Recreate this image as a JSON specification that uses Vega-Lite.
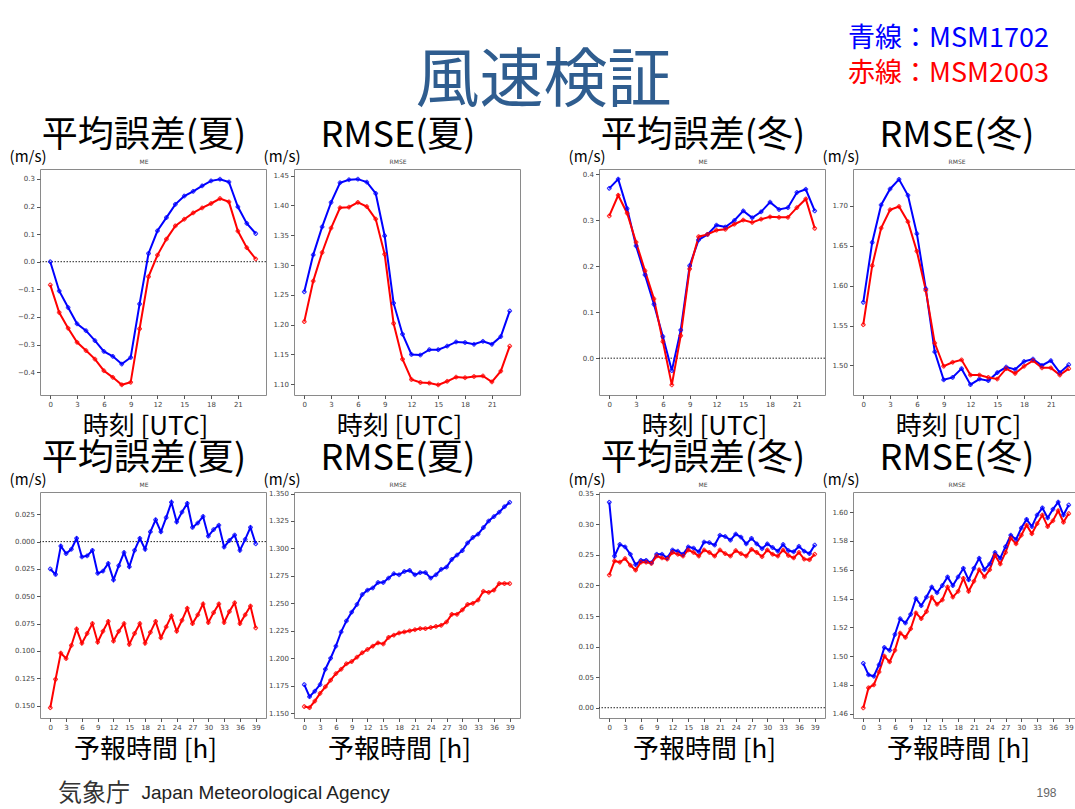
{
"$schema": "https://vega.github.io/schema/vega-lite/v6.json",
"background": "white",
"padding": {"left": 8, "top": 25, "right": 0, "bottom": 12},
"datasets": {
"p1": [
{"h":0,"MSM1702":0.000,"MSM2003":-0.084},{"h":1,"MSM1702":-0.106,"MSM2003":-0.184},{"h":2,"MSM1702":-0.166,"MSM2003":-0.241},{"h":3,"MSM1702":-0.225,"MSM2003":-0.292},{"h":4,"MSM1702":-0.250,"MSM2003":-0.322},{"h":5,"MSM1702":-0.286,"MSM2003":-0.353},{"h":6,"MSM1702":-0.325,"MSM2003":-0.395},{"h":7,"MSM1702":-0.343,"MSM2003":-0.419},{"h":8,"MSM1702":-0.371,"MSM2003":-0.446},{"h":9,"MSM1702":-0.347,"MSM2003":-0.437},{"h":10,"MSM1702":-0.153,"MSM2003":-0.243},{"h":11,"MSM1702":0.030,"MSM2003":-0.054},{"h":12,"MSM1702":0.112,"MSM2003":0.024},{"h":13,"MSM1702":0.160,"MSM2003":0.082},{"h":14,"MSM1702":0.208,"MSM2003":0.130},{"h":15,"MSM1702":0.238,"MSM2003":0.154},{"h":16,"MSM1702":0.255,"MSM2003":0.177},{"h":17,"MSM1702":0.275,"MSM2003":0.195},{"h":18,"MSM1702":0.293,"MSM2003":0.211},{"h":19,"MSM1702":0.299,"MSM2003":0.229},{"h":20,"MSM1702":0.289,"MSM2003":0.217},{"h":21,"MSM1702":0.199,"MSM2003":0.111},{"h":22,"MSM1702":0.139,"MSM2003":0.051},{"h":23,"MSM1702":0.102,"MSM2003":0.010}],
"p2": [
{"h":0,"MSM1702":1.255,"MSM2003":1.205},{"h":1,"MSM1702":1.317,"MSM2003":1.273},{"h":2,"MSM1702":1.364,"MSM2003":1.321},{"h":3,"MSM1702":1.405,"MSM2003":1.362},{"h":4,"MSM1702":1.438,"MSM2003":1.396},{"h":5,"MSM1702":1.443,"MSM2003":1.397},{"h":6,"MSM1702":1.444,"MSM2003":1.405},{"h":7,"MSM1702":1.439,"MSM2003":1.398},{"h":8,"MSM1702":1.420,"MSM2003":1.377},{"h":9,"MSM1702":1.349,"MSM2003":1.318},{"h":10,"MSM1702":1.236,"MSM2003":1.202},{"h":11,"MSM1702":1.184,"MSM2003":1.142},{"h":12,"MSM1702":1.150,"MSM2003":1.108},{"h":13,"MSM1702":1.149,"MSM2003":1.103},{"h":14,"MSM1702":1.158,"MSM2003":1.102},{"h":15,"MSM1702":1.158,"MSM2003":1.099},{"h":16,"MSM1702":1.164,"MSM2003":1.105},{"h":17,"MSM1702":1.171,"MSM2003":1.112},{"h":18,"MSM1702":1.170,"MSM2003":1.111},{"h":19,"MSM1702":1.167,"MSM2003":1.113},{"h":20,"MSM1702":1.172,"MSM2003":1.114},{"h":21,"MSM1702":1.167,"MSM2003":1.104},{"h":22,"MSM1702":1.180,"MSM2003":1.122},{"h":23,"MSM1702":1.223,"MSM2003":1.164}],
"p3": [
{"h":0,"MSM1702":0.369,"MSM2003":0.309},{"h":1,"MSM1702":0.389,"MSM2003":0.354},{"h":2,"MSM1702":0.325,"MSM2003":0.315},{"h":3,"MSM1702":0.244,"MSM2003":0.252},{"h":4,"MSM1702":0.181,"MSM2003":0.190},{"h":5,"MSM1702":0.117,"MSM2003":0.129},{"h":6,"MSM1702":0.047,"MSM2003":0.036},{"h":7,"MSM1702":-0.027,"MSM2003":-0.058},{"h":8,"MSM1702":0.061,"MSM2003":0.049},{"h":9,"MSM1702":0.201,"MSM2003":0.194},{"h":10,"MSM1702":0.257,"MSM2003":0.264},{"h":11,"MSM1702":0.269,"MSM2003":0.269},{"h":12,"MSM1702":0.289,"MSM2003":0.278},{"h":13,"MSM1702":0.285,"MSM2003":0.280},{"h":14,"MSM1702":0.299,"MSM2003":0.291},{"h":15,"MSM1702":0.320,"MSM2003":0.300},{"h":16,"MSM1702":0.305,"MSM2003":0.295},{"h":17,"MSM1702":0.318,"MSM2003":0.302},{"h":18,"MSM1702":0.339,"MSM2003":0.307},{"h":19,"MSM1702":0.323,"MSM2003":0.306},{"h":20,"MSM1702":0.327,"MSM2003":0.306},{"h":21,"MSM1702":0.360,"MSM2003":0.327},{"h":22,"MSM1702":0.367,"MSM2003":0.346},{"h":23,"MSM1702":0.320,"MSM2003":0.282}],
"p4": [
{"h":0,"MSM1702":1.579,"MSM2003":1.551},{"h":1,"MSM1702":1.654,"MSM2003":1.625},{"h":2,"MSM1702":1.701,"MSM2003":1.672},{"h":3,"MSM1702":1.721,"MSM2003":1.695},{"h":4,"MSM1702":1.733,"MSM2003":1.699},{"h":5,"MSM1702":1.713,"MSM2003":1.680},{"h":6,"MSM1702":1.665,"MSM2003":1.643},{"h":7,"MSM1702":1.596,"MSM2003":1.594},{"h":8,"MSM1702":1.517,"MSM2003":1.528},{"h":9,"MSM1702":1.482,"MSM2003":1.499},{"h":10,"MSM1702":1.485,"MSM2003":1.504},{"h":11,"MSM1702":1.496,"MSM2003":1.507},{"h":12,"MSM1702":1.476,"MSM2003":1.488},{"h":13,"MSM1702":1.483,"MSM2003":1.488},{"h":14,"MSM1702":1.481,"MSM2003":1.485},{"h":15,"MSM1702":1.491,"MSM2003":1.483},{"h":16,"MSM1702":1.498,"MSM2003":1.496},{"h":17,"MSM1702":1.495,"MSM2003":1.490},{"h":18,"MSM1702":1.505,"MSM2003":1.499},{"h":19,"MSM1702":1.508,"MSM2003":1.506},{"h":20,"MSM1702":1.500,"MSM2003":1.497},{"h":21,"MSM1702":1.506,"MSM2003":1.497},{"h":22,"MSM1702":1.491,"MSM2003":1.488},{"h":23,"MSM1702":1.501,"MSM2003":1.496}],
"p5": [
{"h":0,"MSM1702":-0.025,"MSM2003":-0.152},{"h":1,"MSM1702":-0.030,"MSM2003":-0.126},{"h":2,"MSM1702":-0.004,"MSM2003":-0.102},{"h":3,"MSM1702":-0.011,"MSM2003":-0.107},{"h":4,"MSM1702":-0.007,"MSM2003":-0.095},{"h":5,"MSM1702":0.003,"MSM2003":-0.080},{"h":6,"MSM1702":-0.014,"MSM2003":-0.093},{"h":7,"MSM1702":-0.013,"MSM2003":-0.084},{"h":8,"MSM1702":-0.008,"MSM2003":-0.075},{"h":9,"MSM1702":-0.029,"MSM2003":-0.092},{"h":10,"MSM1702":-0.027,"MSM2003":-0.082},{"h":11,"MSM1702":-0.020,"MSM2003":-0.073},{"h":12,"MSM1702":-0.035,"MSM2003":-0.091},{"h":13,"MSM1702":-0.022,"MSM2003":-0.082},{"h":14,"MSM1702":-0.010,"MSM2003":-0.075},{"h":15,"MSM1702":-0.023,"MSM2003":-0.094},{"h":16,"MSM1702":-0.008,"MSM2003":-0.084},{"h":17,"MSM1702":0.003,"MSM2003":-0.075},{"h":18,"MSM1702":-0.007,"MSM2003":-0.093},{"h":19,"MSM1702":0.009,"MSM2003":-0.083},{"h":20,"MSM1702":0.020,"MSM2003":-0.073},{"h":21,"MSM1702":0.009,"MSM2003":-0.088},{"h":22,"MSM1702":0.022,"MSM2003":-0.078},{"h":23,"MSM1702":0.036,"MSM2003":-0.068},{"h":24,"MSM1702":0.018,"MSM2003":-0.082},{"h":25,"MSM1702":0.027,"MSM2003":-0.072},{"h":26,"MSM1702":0.035,"MSM2003":-0.061},{"h":27,"MSM1702":0.013,"MSM2003":-0.075},{"h":28,"MSM1702":0.017,"MSM2003":-0.067},{"h":29,"MSM1702":0.023,"MSM2003":-0.057},{"h":30,"MSM1702":0.005,"MSM2003":-0.074},{"h":31,"MSM1702":0.011,"MSM2003":-0.065},{"h":32,"MSM1702":0.015,"MSM2003":-0.057},{"h":33,"MSM1702":-0.005,"MSM2003":-0.074},{"h":34,"MSM1702":0.001,"MSM2003":-0.064},{"h":35,"MSM1702":0.006,"MSM2003":-0.056},{"h":36,"MSM1702":-0.008,"MSM2003":-0.075},{"h":37,"MSM1702":0.002,"MSM2003":-0.067},{"h":38,"MSM1702":0.013,"MSM2003":-0.059},{"h":39,"MSM1702":-0.002,"MSM2003":-0.079}],
"p6": [
{"h":0,"MSM1702":1.176,"MSM2003":1.156},{"h":1,"MSM1702":1.165,"MSM2003":1.155},{"h":2,"MSM1702":1.170,"MSM2003":1.161},{"h":3,"MSM1702":1.176,"MSM2003":1.168},{"h":4,"MSM1702":1.190,"MSM2003":1.174},{"h":5,"MSM1702":1.200,"MSM2003":1.180},{"h":6,"MSM1702":1.211,"MSM2003":1.186},{"h":7,"MSM1702":1.224,"MSM2003":1.190},{"h":8,"MSM1702":1.234,"MSM2003":1.195},{"h":9,"MSM1702":1.242,"MSM2003":1.197},{"h":10,"MSM1702":1.249,"MSM2003":1.201},{"h":11,"MSM1702":1.258,"MSM2003":1.205},{"h":12,"MSM1702":1.262,"MSM2003":1.208},{"h":13,"MSM1702":1.264,"MSM2003":1.211},{"h":14,"MSM1702":1.269,"MSM2003":1.214},{"h":15,"MSM1702":1.269,"MSM2003":1.213},{"h":16,"MSM1702":1.273,"MSM2003":1.219},{"h":17,"MSM1702":1.277,"MSM2003":1.221},{"h":18,"MSM1702":1.276,"MSM2003":1.223},{"h":19,"MSM1702":1.279,"MSM2003":1.224},{"h":20,"MSM1702":1.280,"MSM2003":1.225},{"h":21,"MSM1702":1.276,"MSM2003":1.226},{"h":22,"MSM1702":1.278,"MSM2003":1.227},{"h":23,"MSM1702":1.278,"MSM2003":1.227},{"h":24,"MSM1702":1.273,"MSM2003":1.228},{"h":25,"MSM1702":1.276,"MSM2003":1.229},{"h":26,"MSM1702":1.281,"MSM2003":1.230},{"h":27,"MSM1702":1.283,"MSM2003":1.233},{"h":28,"MSM1702":1.290,"MSM2003":1.240},{"h":29,"MSM1702":1.294,"MSM2003":1.240},{"h":30,"MSM1702":1.298,"MSM2003":1.244},{"h":31,"MSM1702":1.305,"MSM2003":1.249},{"h":32,"MSM1702":1.310,"MSM2003":1.250},{"h":33,"MSM1702":1.313,"MSM2003":1.253},{"h":34,"MSM1702":1.319,"MSM2003":1.261},{"h":35,"MSM1702":1.325,"MSM2003":1.260},{"h":36,"MSM1702":1.329,"MSM2003":1.262},{"h":37,"MSM1702":1.333,"MSM2003":1.268},{"h":38,"MSM1702":1.338,"MSM2003":1.268},{"h":39,"MSM1702":1.342,"MSM2003":1.268}],
"p7": [
{"h":0,"MSM1702":0.336,"MSM2003":0.217},{"h":1,"MSM1702":0.248,"MSM2003":0.240},{"h":2,"MSM1702":0.267,"MSM2003":0.238},{"h":3,"MSM1702":0.263,"MSM2003":0.244},{"h":4,"MSM1702":0.251,"MSM2003":0.233},{"h":5,"MSM1702":0.234,"MSM2003":0.225},{"h":6,"MSM1702":0.241,"MSM2003":0.238},{"h":7,"MSM1702":0.241,"MSM2003":0.238},{"h":8,"MSM1702":0.237,"MSM2003":0.236},{"h":9,"MSM1702":0.251,"MSM2003":0.248},{"h":10,"MSM1702":0.251,"MSM2003":0.245},{"h":11,"MSM1702":0.245,"MSM2003":0.243},{"h":12,"MSM1702":0.258,"MSM2003":0.254},{"h":13,"MSM1702":0.256,"MSM2003":0.251},{"h":14,"MSM1702":0.251,"MSM2003":0.248},{"h":15,"MSM1702":0.263,"MSM2003":0.258},{"h":16,"MSM1702":0.261,"MSM2003":0.254},{"h":17,"MSM1702":0.255,"MSM2003":0.248},{"h":18,"MSM1702":0.271,"MSM2003":0.258},{"h":19,"MSM1702":0.270,"MSM2003":0.254},{"h":20,"MSM1702":0.266,"MSM2003":0.248},{"h":21,"MSM1702":0.282,"MSM2003":0.258},{"h":22,"MSM1702":0.280,"MSM2003":0.252},{"h":23,"MSM1702":0.274,"MSM2003":0.248},{"h":24,"MSM1702":0.284,"MSM2003":0.257},{"h":25,"MSM1702":0.279,"MSM2003":0.252},{"h":26,"MSM1702":0.268,"MSM2003":0.248},{"h":27,"MSM1702":0.277,"MSM2003":0.259},{"h":28,"MSM1702":0.268,"MSM2003":0.254},{"h":29,"MSM1702":0.260,"MSM2003":0.247},{"h":30,"MSM1702":0.268,"MSM2003":0.258},{"h":31,"MSM1702":0.262,"MSM2003":0.251},{"h":32,"MSM1702":0.256,"MSM2003":0.248},{"h":33,"MSM1702":0.267,"MSM2003":0.258},{"h":34,"MSM1702":0.257,"MSM2003":0.249},{"h":35,"MSM1702":0.255,"MSM2003":0.245},{"h":36,"MSM1702":0.264,"MSM2003":0.254},{"h":37,"MSM1702":0.256,"MSM2003":0.243},{"h":38,"MSM1702":0.252,"MSM2003":0.242},{"h":39,"MSM1702":0.266,"MSM2003":0.251}],
"p8": [
{"h":0,"MSM1702":1.495,"MSM2003":1.464},{"h":1,"MSM1702":1.487,"MSM2003":1.478},{"h":2,"MSM1702":1.486,"MSM2003":1.480},{"h":3,"MSM1702":1.494,"MSM2003":1.489},{"h":4,"MSM1702":1.506,"MSM2003":1.500},{"h":5,"MSM1702":1.504,"MSM2003":1.496},{"h":6,"MSM1702":1.515,"MSM2003":1.504},{"h":7,"MSM1702":1.526,"MSM2003":1.516},{"h":8,"MSM1702":1.523,"MSM2003":1.513},{"h":9,"MSM1702":1.529,"MSM2003":1.519},{"h":10,"MSM1702":1.540,"MSM2003":1.530},{"h":11,"MSM1702":1.535,"MSM2003":1.526},{"h":12,"MSM1702":1.541,"MSM2003":1.531},{"h":13,"MSM1702":1.548,"MSM2003":1.541},{"h":14,"MSM1702":1.544,"MSM2003":1.536},{"h":15,"MSM1702":1.549,"MSM2003":1.539},{"h":16,"MSM1702":1.555,"MSM2003":1.548},{"h":17,"MSM1702":1.549,"MSM2003":1.541},{"h":18,"MSM1702":1.555,"MSM2003":1.545},{"h":19,"MSM1702":1.561,"MSM2003":1.554},{"h":20,"MSM1702":1.553,"MSM2003":1.545},{"h":21,"MSM1702":1.561,"MSM2003":1.552},{"h":22,"MSM1702":1.568,"MSM2003":1.560},{"h":23,"MSM1702":1.560,"MSM2003":1.555},{"h":24,"MSM1702":1.564,"MSM2003":1.560},{"h":25,"MSM1702":1.572,"MSM2003":1.570},{"h":26,"MSM1702":1.568,"MSM2003":1.564},{"h":27,"MSM1702":1.576,"MSM2003":1.572},{"h":28,"MSM1702":1.584,"MSM2003":1.582},{"h":29,"MSM1702":1.581,"MSM2003":1.578},{"h":30,"MSM1702":1.589,"MSM2003":1.584},{"h":31,"MSM1702":1.595,"MSM2003":1.591},{"h":32,"MSM1702":1.590,"MSM2003":1.585},{"h":33,"MSM1702":1.598,"MSM2003":1.592},{"h":34,"MSM1702":1.603,"MSM2003":1.598},{"h":35,"MSM1702":1.596,"MSM2003":1.590},{"h":36,"MSM1702":1.602,"MSM2003":1.594},{"h":37,"MSM1702":1.607,"MSM2003":1.601},{"h":38,"MSM1702":1.598,"MSM2003":1.593},{"h":39,"MSM1702":1.605,"MSM2003":1.599}],
"zero": [{"v": 0}],
"blank": [{"k": 0}]
},
"title": {"text": "気象庁", "orient": "bottom", "anchor": "start", "frame": "group", "fontSize": 24, "font": "Noto Sans CJK JP", "color": "#333333", "dx": 18, "offset": -20},
"columns": 5,
"bounds": "flush",
"spacing": {"row": 97, "column": 28},
"concat": [
{"width": 226, "height": 226, "title": {"text": "平均誤差(夏)", "subtitle": "ME"},
 "layer": [
  {"data": {"name": "zero"}, "mark": {"type": "rule", "color": "#222", "strokeWidth": 1, "strokeDash": [1.5, 1.5]}, "encoding": {"y": {"field": "v", "type": "quantitative", "title": "(m/s)", "axis": {"values": [-0.4,-0.3,-0.2,-0.1,0,0.1,0.2,0.3], "format": ".1f"}}}},
  {"data": {"name": "p1"}, "transform": [{"fold": ["MSM1702", "MSM2003"], "as": ["series", "v"]}],
   "mark": {"type": "line", "strokeWidth": 2, "point": {"filled": false, "shape": "cross", "size": 14, "strokeWidth": 0.8}},
   "encoding": {
    "x": {"field": "h", "type": "quantitative", "title": "時刻 [UTC]", "scale": {"domain": [-1.15, 24.15], "nice": false, "zero": false}, "axis": {"values": [0,3,6,9,12,15,18,21]}},
    "y": {"field": "v", "type": "quantitative", "title": "(m/s)", "scale": {"domain": [-0.483, 0.336], "nice": false, "zero": false}, "axis": {"values": [-0.4,-0.3,-0.2,-0.1,0,0.1,0.2,0.3], "format": ".1f"}},
    "color": {"field": "series", "type": "nominal", "title": null, "scale": {"domain": ["MSM1702", "MSM2003"], "range": ["#0000ff", "#ff0000"]}, "legend": {"labelExpr": "datum.label == 'MSM1702' ? '青線：MSM1702' : '赤線：MSM2003'", "encode": {"labels": {"update": {"fill": {"signal": "datum.value == 'MSM1702' ? '#0000ff' : '#ff0000'"}}}}}}
   }}
 ]},
{"width": 226, "height": 226, "title": {"text": "RMSE(夏)", "subtitle": "RMSE"},
 "data": {"name": "p2"}, "transform": [{"fold": ["MSM1702", "MSM2003"], "as": ["series", "v"]}],
 "mark": {"type": "line", "strokeWidth": 2, "point": {"filled": false, "shape": "cross", "size": 14, "strokeWidth": 0.8}},
 "encoding": {
  "x": {"field": "h", "type": "quantitative", "title": "時刻 [UTC]", "scale": {"domain": [-1.15, 24.15], "nice": false, "zero": false}, "axis": {"values": [0,3,6,9,12,15,18,21]}},
  "y": {"field": "v", "type": "quantitative", "title": "(m/s)", "scale": {"domain": [1.082, 1.461], "nice": false, "zero": false}, "axis": {"values": [1.10,1.15,1.20,1.25,1.30,1.35,1.40,1.45], "format": ".2f"}},
  "color": {"field": "series", "type": "nominal", "title": null, "scale": {"domain": ["MSM1702", "MSM2003"], "range": ["#0000ff", "#ff0000"]}}
 }},
{"width": 23, "height": 226, "view": {"stroke": null},
 "title": {"text": "風速検証", "fontSize": 64, "color": "#2f5d8f", "font": "Noto Sans CJK JP", "fontWeight": "normal", "anchor": "middle", "frame": "group", "dx": -16, "offset": 55},
 "data": {"name": "blank"}, "mark": {"type": "point", "opacity": 0}, "encoding": {}},
{"width": 226, "height": 226, "title": {"text": "平均誤差(冬)", "subtitle": "ME"},
 "layer": [
  {"data": {"name": "zero"}, "mark": {"type": "rule", "color": "#222", "strokeWidth": 1, "strokeDash": [1.5, 1.5]}, "encoding": {"y": {"field": "v", "type": "quantitative", "title": "(m/s)", "axis": {"values": [0,0.1,0.2,0.3,0.4], "format": ".1f"}}}},
  {"data": {"name": "p3"}, "transform": [{"fold": ["MSM1702", "MSM2003"], "as": ["series", "v"]}],
   "mark": {"type": "line", "strokeWidth": 2, "point": {"filled": false, "shape": "cross", "size": 14, "strokeWidth": 0.8}},
   "encoding": {
    "x": {"field": "h", "type": "quantitative", "title": "時刻 [UTC]", "scale": {"domain": [-1.15, 24.15], "nice": false, "zero": false}, "axis": {"values": [0,3,6,9,12,15,18,21]}},
    "y": {"field": "v", "type": "quantitative", "title": "(m/s)", "scale": {"domain": [-0.080, 0.411], "nice": false, "zero": false}, "axis": {"values": [0,0.1,0.2,0.3,0.4], "format": ".1f"}},
    "color": {"field": "series", "type": "nominal", "title": null, "scale": {"domain": ["MSM1702", "MSM2003"], "range": ["#0000ff", "#ff0000"]}}
   }}
 ]},
{"width": 226, "height": 226, "title": {"text": "RMSE(冬)", "subtitle": "RMSE"},
 "data": {"name": "p4"}, "transform": [{"fold": ["MSM1702", "MSM2003"], "as": ["series", "v"]}],
 "mark": {"type": "line", "strokeWidth": 2, "point": {"filled": false, "shape": "cross", "size": 14, "strokeWidth": 0.8}},
 "encoding": {
  "x": {"field": "h", "type": "quantitative", "title": "時刻 [UTC]", "scale": {"domain": [-1.15, 24.15], "nice": false, "zero": false}, "axis": {"values": [0,3,6,9,12,15,18,21]}},
  "y": {"field": "v", "type": "quantitative", "title": "(m/s)", "scale": {"domain": [1.463, 1.746], "nice": false, "zero": false}, "axis": {"values": [1.50,1.55,1.60,1.65,1.70], "format": ".2f"}},
  "color": {"field": "series", "type": "nominal", "title": null, "scale": {"domain": ["MSM1702", "MSM2003"], "range": ["#0000ff", "#ff0000"]}}
 }},
{"width": 226, "height": 226, "title": {"text": "平均誤差(夏)", "subtitle": "ME"},
 "layer": [
  {"data": {"name": "zero"}, "mark": {"type": "rule", "color": "#222", "strokeWidth": 1, "strokeDash": [1.5, 1.5]}, "encoding": {"y": {"field": "v", "type": "quantitative", "title": "(m/s)", "axis": {"values": [-0.15,-0.125,-0.1,-0.075,-0.05,-0.025,0,0.025], "labelExpr": "format(abs(datum.value), '.3f')"}}}},
  {"data": {"name": "p5"}, "transform": [{"fold": ["MSM1702", "MSM2003"], "as": ["series", "v"]}],
   "mark": {"type": "line", "strokeWidth": 2, "point": {"filled": false, "shape": "cross", "size": 14, "strokeWidth": 0.8}},
   "encoding": {
    "x": {"field": "h", "type": "quantitative", "title": "予報時間 [h]", "scale": {"domain": [-1.95, 40.95], "nice": false, "zero": false}, "axis": {"values": [0,3,6,9,12,15,18,21,24,27,30,33,36,39]}},
    "y": {"field": "v", "type": "quantitative", "title": "(m/s)", "scale": {"domain": [-0.1614, 0.0454], "nice": false, "zero": false}, "axis": {"values": [-0.15,-0.125,-0.1,-0.075,-0.05,-0.025,0,0.025], "labelExpr": "format(abs(datum.value), '.3f')"}},
    "color": {"field": "series", "type": "nominal", "title": null, "scale": {"domain": ["MSM1702", "MSM2003"], "range": ["#0000ff", "#ff0000"]}}
   }}
 ]},
{"width": 226, "height": 226, "title": {"text": "RMSE(夏)", "subtitle": "RMSE"},
 "data": {"name": "p6"}, "transform": [{"fold": ["MSM1702", "MSM2003"], "as": ["series", "v"]}],
 "mark": {"type": "line", "strokeWidth": 2, "point": {"filled": false, "shape": "cross", "size": 14, "strokeWidth": 0.8}},
 "encoding": {
  "x": {"field": "h", "type": "quantitative", "title": "予報時間 [h]", "scale": {"domain": [-1.95, 40.95], "nice": false, "zero": false}, "axis": {"values": [0,3,6,9,12,15,18,21,24,27,30,33,36,39]}},
  "y": {"field": "v", "type": "quantitative", "title": "(m/s)", "scale": {"domain": [1.1456, 1.3514], "nice": false, "zero": false}, "axis": {"values": [1.15,1.175,1.2,1.225,1.25,1.275,1.3,1.325,1.35], "format": ".3f"}},
  "color": {"field": "series", "type": "nominal", "title": null, "scale": {"domain": ["MSM1702", "MSM2003"], "range": ["#0000ff", "#ff0000"]}}
 }},
{"width": 23, "height": 226, "view": {"stroke": null},
 "data": {"name": "blank"}, "mark": {"type": "point", "opacity": 0},
 "encoding": {
  "x": {"field": "k", "type": "quantitative", "axis": {"title": "Japan Meteorological Agency", "labels": false, "ticks": false, "domain": false, "titleX": -407, "titleY": 74, "titleAlign": "left", "titleBaseline": "middle", "titleFontSize": 19, "titleFont": "Liberation Sans", "titleColor": "#222", "titlePadding": 0}},
  "y": {"field": "k", "type": "quantitative", "axis": {"title": "198", "labels": false, "ticks": false, "domain": false, "titleAngle": 0, "titleX": 488, "titleY": 300, "titleAlign": "left", "titleBaseline": "middle", "titleFontSize": 12, "titleFont": "Liberation Sans", "titleColor": "#666"}}
 }},
{"width": 226, "height": 226, "title": {"text": "平均誤差(冬)", "subtitle": "ME"},
 "layer": [
  {"data": {"name": "zero"}, "mark": {"type": "rule", "color": "#222", "strokeWidth": 1, "strokeDash": [1.5, 1.5]}, "encoding": {"y": {"field": "v", "type": "quantitative", "title": "(m/s)", "axis": {"values": [0,0.05,0.1,0.15,0.2,0.25,0.3,0.35], "format": ".2f"}}}},
  {"data": {"name": "p7"}, "transform": [{"fold": ["MSM1702", "MSM2003"], "as": ["series", "v"]}],
   "mark": {"type": "line", "strokeWidth": 2, "point": {"filled": false, "shape": "cross", "size": 14, "strokeWidth": 0.8}},
   "encoding": {
    "x": {"field": "h", "type": "quantitative", "title": "予報時間 [h]", "scale": {"domain": [-1.95, 40.95], "nice": false, "zero": false}, "axis": {"values": [0,3,6,9,12,15,18,21,24,27,30,33,36,39]}},
    "y": {"field": "v", "type": "quantitative", "title": "(m/s)", "scale": {"domain": [-0.0168, 0.3528], "nice": false, "zero": false}, "axis": {"values": [0,0.05,0.1,0.15,0.2,0.25,0.3,0.35], "format": ".2f"}},
    "color": {"field": "series", "type": "nominal", "title": null, "scale": {"domain": ["MSM1702", "MSM2003"], "range": ["#0000ff", "#ff0000"]}}
   }}
 ]},
{"width": 226, "height": 226, "title": {"text": "RMSE(冬)", "subtitle": "RMSE"},
 "data": {"name": "p8"}, "transform": [{"fold": ["MSM1702", "MSM2003"], "as": ["series", "v"]}],
 "mark": {"type": "line", "strokeWidth": 2, "point": {"filled": false, "shape": "cross", "size": 14, "strokeWidth": 0.8}},
 "encoding": {
  "x": {"field": "h", "type": "quantitative", "title": "予報時間 [h]", "scale": {"domain": [-1.95, 40.95], "nice": false, "zero": false}, "axis": {"values": [0,3,6,9,12,15,18,21,24,27,30,33,36,39]}},
  "y": {"field": "v", "type": "quantitative", "title": "(m/s)", "scale": {"domain": [1.457, 1.614], "nice": false, "zero": false}, "axis": {"values": [1.46,1.48,1.5,1.52,1.54,1.56,1.58,1.6], "format": ".2f"}},
  "color": {"field": "series", "type": "nominal", "title": null, "scale": {"domain": ["MSM1702", "MSM2003"], "range": ["#0000ff", "#ff0000"]}}
 }}
],
"config": {
 "font": "Noto Sans CJK JP",
 "view": {"stroke": "#8a8a8a", "strokeWidth": 1},
 "axis": {"labelFont": "DejaVu Sans", "labelFontSize": 7, "labelColor": "#444", "tickColor": "#555", "tickSize": 3.5, "domain": false, "grid": false, "labelPadding": 2, "labelOverlap": false, "labelFlush": false, "titleFont": "Noto Sans CJK JP", "titleColor": "#000", "titleFontWeight": "normal"},
 "axisX": {"titleFontSize": 26, "titlePadding": 6, "labelAngle": 0, "titleX": 105},
 "axisY": {"titleAngle": 0, "titleFontSize": 15, "titleAlign": "right", "titleBaseline": "middle", "titleX": 6, "titleY": -13},
 "title": {"font": "Noto Sans CJK JP", "fontSize": 36, "fontWeight": "normal", "color": "#000", "anchor": "middle", "frame": "group", "offset": -17, "dx": -9, "subtitleFont": "DejaVu Sans", "subtitleFontSize": 6, "subtitleColor": "#444", "subtitlePadding": 4},
 "legend": {"orient": "none", "legendX": 781, "legendY": -144, "labelFont": "Noto Sans CJK JP", "labelFontSize": 27, "labelLimit": 0, "symbolOpacity": 0, "symbolStrokeWidth": 0, "symbolSize": 1, "labelOffset": 0, "rowPadding": 7}
}
}
